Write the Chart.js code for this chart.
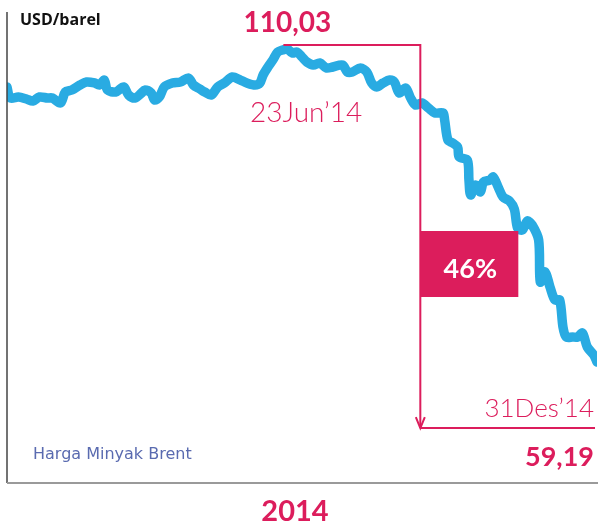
<!DOCTYPE html>
<html>
<head>
<meta charset="utf-8">
<script src="https://cdn.jsdelivr.net/npm/chart.js@4/dist/chart.umd.min.js"></script>
<style>
  html, body { margin: 0; padding: 0; background: #fff; }
  #wrap { width: 598px; height: 526px; position: relative; }
</style>
</head>
<body>
<div id="wrap"><canvas id="brentChart"></canvas></div>
<script>
// ========== DATA (day of year 2014, Brent USD/barel) ==========
const days = [1, 3, 8, 13, 17, 21, 26, 29, 34, 37, 41, 46, 50, 55, 58, 61, 63, 68, 73, 76,
  80, 84, 86, 90, 92, 95, 98, 103, 108, 113, 116, 120, 123, 127, 131, 135, 140, 145, 149, 154,
  157, 159, 162, 165, 168, 171, 174, 177, 180, 183, 186, 190, 194, 198, 202, 208, 211, 214, 219, 223,
  226, 229, 233, 237, 240, 243, 247, 250, 253, 257, 261, 265, 270, 271, 273, 276, 279, 280, 285, 286,
  287, 290, 293, 295, 299, 301, 304, 307, 311, 314, 316, 319, 322, 325, 329, 330, 333, 336, 339, 342,
  344, 346, 350, 353, 356, 359, 363, 365];
const prices = [103.86, 102.07, 102.23, 101.91, 101.58, 102.23, 102.07, 102.07, 101.26, 103.05,
  103.37, 104.18, 104.67, 104.51, 104.18, 104.99, 103.37, 103.05, 103.86, 102.56,
  102.07, 102.88, 103.37, 102.88, 101.75, 102.23, 103.86, 104.51, 104.67, 105.32,
  104.18, 103.53, 103.05, 102.56, 103.86, 104.51, 105.48, 104.99, 104.51, 104.18,
  104.51, 105.81, 107.11, 108.24, 109.54, 109.87, 110.03, 109.38, 109.54, 108.73,
  107.92, 107.43, 107.76, 106.94, 107.11, 107.43, 106.29, 106.29, 106.94, 106.29,
  104.51, 103.86, 104.51, 104.99, 104.67, 102.88, 103.70, 102.07, 100.93, 101.26,
  100.45, 99.64, 99.64, 98.50, 95.25, 94.76, 94.11, 92.49, 92.00, 88.75,
  86.32, 87.94, 86.80, 88.43, 88.75, 89.24, 87.62, 85.99, 85.34, 84.04,
  80.96, 80.63, 82.10, 81.45, 79.01, 72.19, 73.81, 71.37, 69.26, 69.26,
  64.88, 63.25, 63.25, 63.25, 63.90, 61.63, 60.33, 59.19];
const peakLabel = "23Jun’14";
const endLabel = "31Des’14";
const yearLabel = "2014";
const unitLabel = "USD/barel";
const seriesLabel = "Harga Minyak Brent";
const bracketDay = 256;

const RED = "#dc1d5c";
const BLUE = "#29abe2";

function fmt(v) {
  return v.toFixed(2).replace(".", ",");
}

// ========== ANNOTATIONS ==========
const annotations = {
  id: "annotations",
  afterDatasetsDraw(chart) {
    const ctx = chart.ctx;
    const area = chart.chartArea;
    const xs = chart.scales.x;
    const ys = chart.scales.y;

    let peak = 0;
    prices.forEach((p, i) => { if (p > prices[peak]) peak = i; });
    const last = prices.length - 1;
    const px = xs.getPixelForValue(days[peak]);
    const py = ys.getPixelForValue(prices[peak]);
    const ey = ys.getPixelForValue(prices[last]);
    const bx = xs.getPixelForValue(bracketDay);
    const topY = py - 4;
    const botY = ey + 66;

    ctx.save();
    // axes
    ctx.strokeStyle = "#444";
    ctx.lineWidth = 1.5;
    ctx.beginPath();
    ctx.moveTo(area.left, area.top);
    ctx.lineTo(area.left, area.bottom);
    ctx.stroke();
    ctx.strokeStyle = "#9a9a9a";
    ctx.lineWidth = 2;
    ctx.beginPath();
    ctx.moveTo(area.left, area.bottom);
    ctx.lineTo(chart.width, area.bottom);
    ctx.stroke();

    // bracket
    ctx.strokeStyle = RED;
    ctx.lineWidth = 2;
    ctx.beginPath();
    ctx.moveTo(px - 4, topY);
    ctx.lineTo(bx, topY);
    ctx.lineTo(bx, botY);
    ctx.moveTo(bx, botY);
    ctx.lineTo(area.right - 2, botY);
    ctx.stroke();
    ctx.beginPath();
    ctx.moveTo(bx - 4.5, botY - 11);
    ctx.lineTo(bx, botY);
    ctx.lineTo(bx + 4.5, botY - 11);
    ctx.stroke();

    // percent box
    ctx.fillStyle = RED;
    ctx.fillRect(bx, 231, 98, 66);
    const pct = Math.round((1 - prices[last] / prices[peak]) * 100);
    ctx.fillStyle = "#fff";
    ctx.font = "bold 27px Lato";
    ctx.textAlign = "center";
    ctx.textBaseline = "alphabetic";
    ctx.fillText(pct + "%", bx + 50, 278);

    // values
    ctx.fillStyle = RED;
    ctx.font = "bold 28px Lato";
    ctx.fillText(fmt(prices[peak]), px, 32);
    ctx.font = "bold 29px Lato";
    ctx.fillText(yearLabel, 295, 521);
    ctx.textAlign = "right";
    ctx.font = "bold 27px Lato";
    ctx.fillText(fmt(prices[last]), 594, 466);

    ctx.font = "300 28px Lato";
    ctx.textAlign = "left";
    ctx.fillText(peakLabel, 250, 122);
    ctx.textAlign = "right";
    ctx.font = "300 26px Lato";
    ctx.fillText(endLabel, 594, 417);

    ctx.textAlign = "left";
    ctx.fillStyle = "#111";
    ctx.font = "bold 16px 'Open Sans'";
    ctx.fillText(unitLabel, 20, 25);

    ctx.fillStyle = "#5a6bb0";
    ctx.font = "16px 'DejaVu Sans'";
    ctx.fillText(seriesLabel, 33, 459);
    ctx.restore();
  }
};

// ========== CHART ==========
new Chart(document.getElementById("brentChart"), {
  type: "line",
  data: {
    datasets: [{
      label: seriesLabel,
      data: days.map((d, i) => ({ x: d, y: prices[i] })),
      borderColor: BLUE,
      borderWidth: 9.5,
      borderCapStyle: "round",
      borderJoinStyle: "round",
      pointRadius: 0,
      tension: 0.3,
      fill: false
    }]
  },
  options: {
    responsive: true,
    maintainAspectRatio: false,
    animation: false,
    layout: { padding: { left: 7, right: 1, top: 12, bottom: 43 } },
    plugins: { legend: { display: false }, tooltip: { enabled: false } },
    scales: {
      x: { type: "linear", min: 1, max: 365, display: false },
      y: { min: 39.54, max: 116.04, display: false }
    }
  },
  plugins: [annotations]
});
</script>
</body>
</html>
